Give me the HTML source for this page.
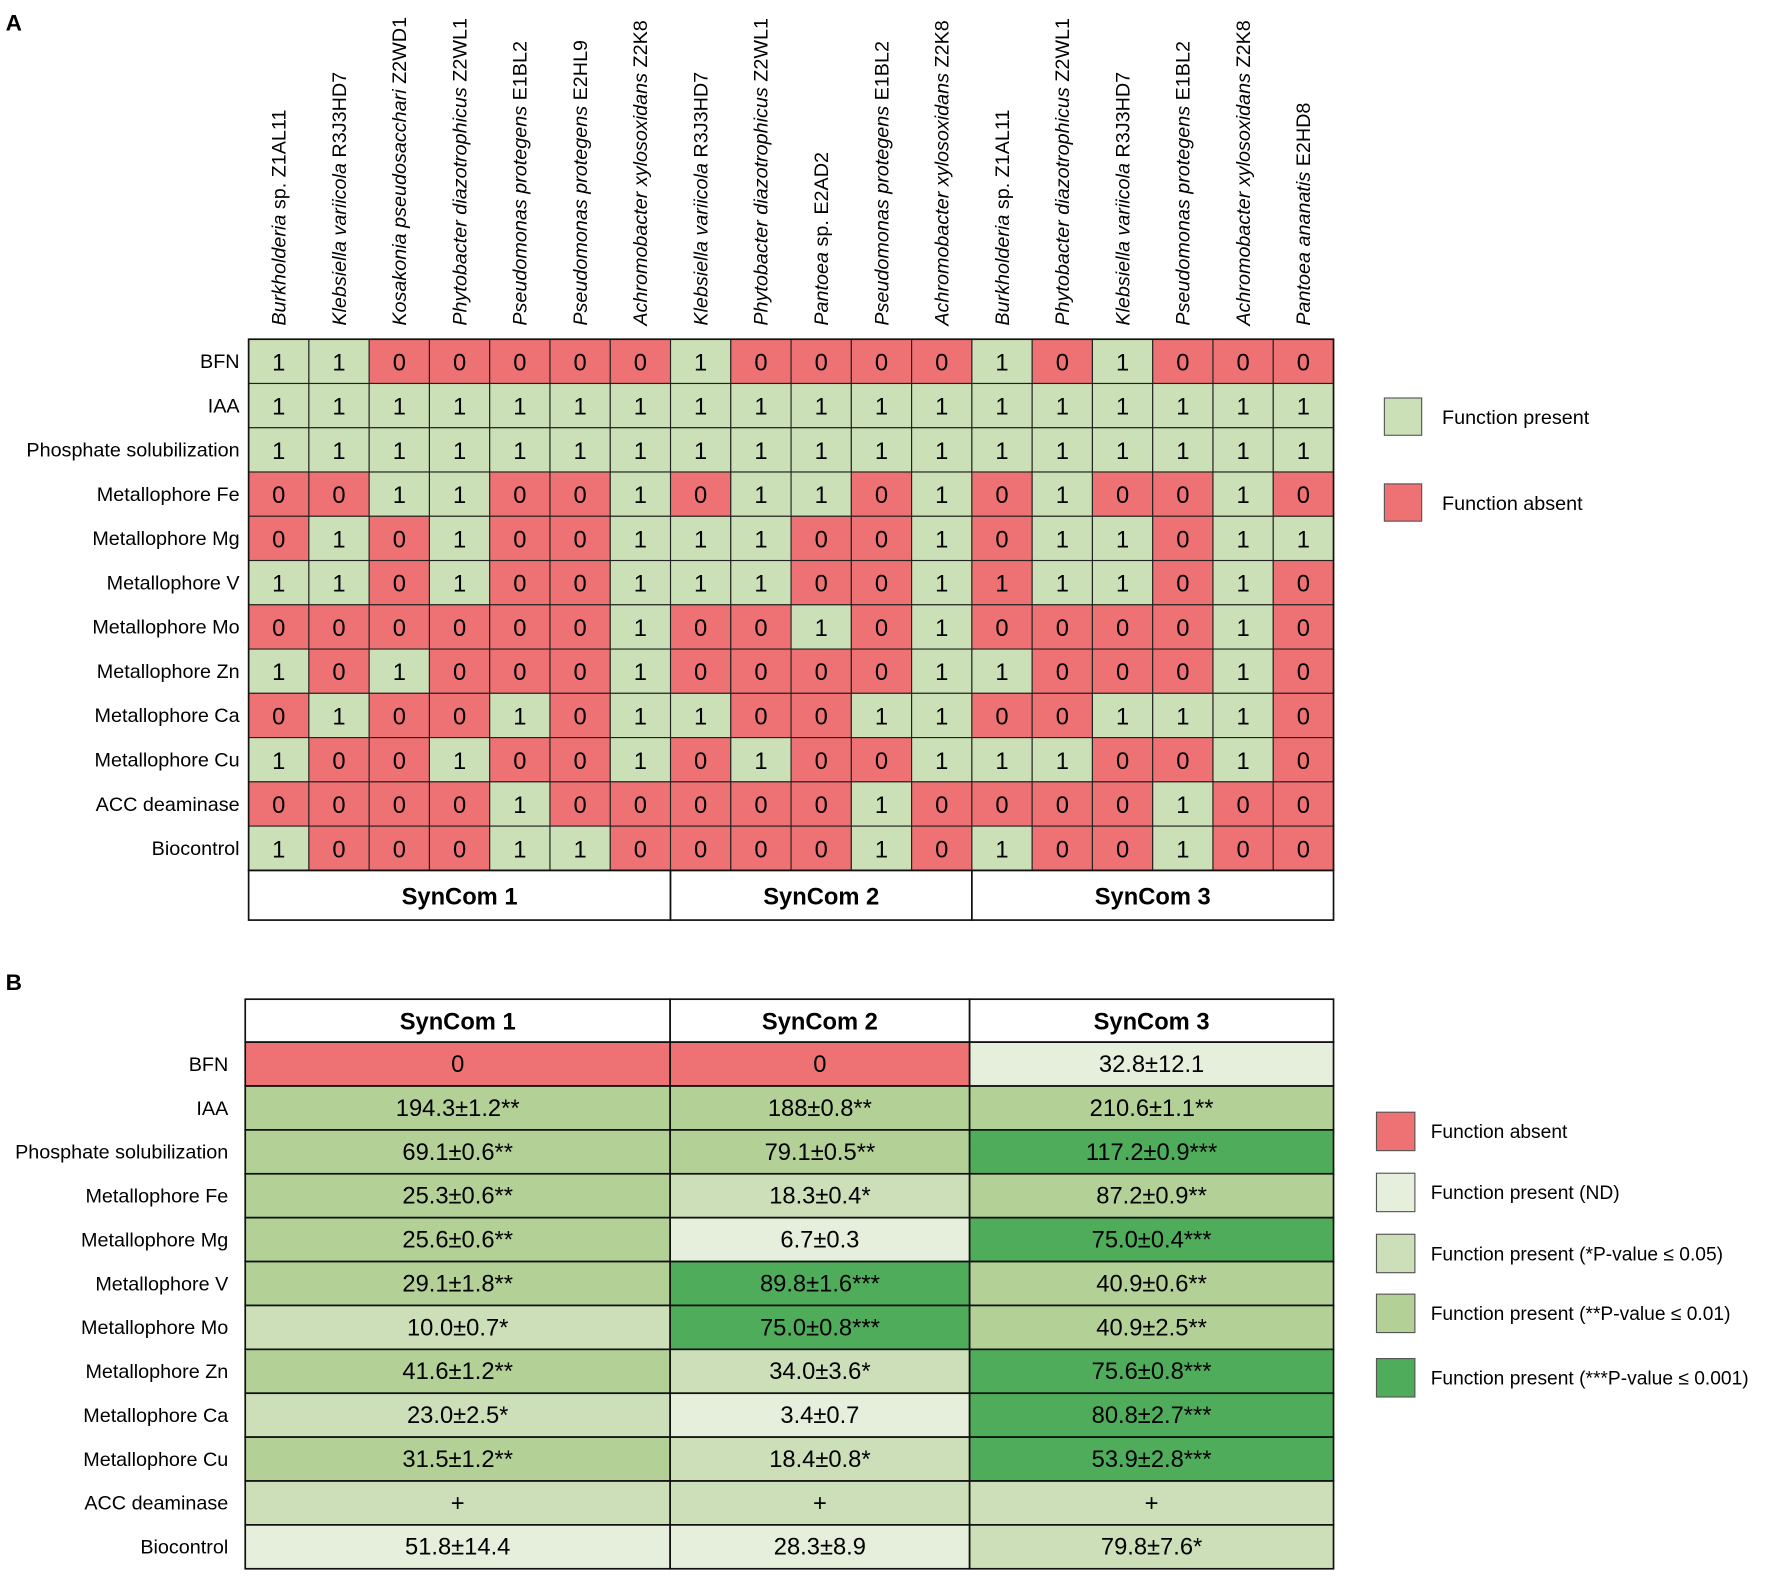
<!DOCTYPE html>
<html><head><meta charset="utf-8"><style>
html,body{margin:0;padding:0;background:#fff;width:1772px;height:1578px;overflow:hidden}
svg{display:block;font-family:"Liberation Sans",Arial,sans-serif}
</style></head><body>
<svg id="fig" width="1772" height="1578" viewBox="0 0 1568 1396" xmlns="http://www.w3.org/2000/svg">
<rect width="1568" height="1396" fill="#fff"/>
<text x="5" y="27" font-size="20" font-weight="bold">A</text>
<text x="5" y="876" font-size="20" font-weight="bold">B</text>
<g id="ga"></g><g id="gb"></g>
</svg>
<script>
// ---- Panel A data ----
const strainGenus = ["Burkholderia","Klebsiella variicola","Kosakonia pseudosacchari","Phytobacter diazotrophicus","Pseudomonas protegens","Pseudomonas protegens","Achromobacter xylosoxidans","Klebsiella variicola","Phytobacter diazotrophicus","Pantoea","Pseudomonas protegens","Achromobacter xylosoxidans","Burkholderia","Phytobacter diazotrophicus","Klebsiella variicola","Pseudomonas protegens","Achromobacter xylosoxidans","Pantoea ananatis"];
const strainSuffix = [" sp. Z1AL11"," R3J3HD7"," Z2WD1"," Z2WL1"," E1BL2"," E2HL9"," Z2K8"," R3J3HD7"," Z2WL1"," sp. E2AD2"," E1BL2"," Z2K8"," sp. Z1AL11"," Z2WL1"," R3J3HD7"," E1BL2"," Z2K8"," E2HD8"];
const functions = ["BFN","IAA","Phosphate solubilization","Metallophore Fe","Metallophore Mg","Metallophore V","Metallophore Mo","Metallophore Zn","Metallophore Ca","Metallophore Cu","ACC deaminase","Biocontrol"];
const matrixA = [
[1,1,0,0,0,0,0,1,0,0,0,0,1,0,1,0,0,0],
[1,1,1,1,1,1,1,1,1,1,1,1,1,1,1,1,1,1],
[1,1,1,1,1,1,1,1,1,1,1,1,1,1,1,1,1,1],
[0,0,1,1,0,0,1,0,1,1,0,1,0,1,0,0,1,0],
[0,1,0,1,0,0,1,1,1,0,0,1,0,1,1,0,1,1],
[1,1,0,1,0,0,1,1,1,0,0,1,1,1,1,0,1,0],
[0,0,0,0,0,0,1,0,0,1,0,1,0,0,0,0,1,0],
[1,0,1,0,0,0,1,0,0,0,0,1,1,0,0,0,1,0],
[0,1,0,0,1,0,1,1,0,0,1,1,0,0,1,1,1,0],
[1,0,0,1,0,0,1,0,1,0,0,1,1,1,0,0,1,0],
[0,0,0,0,1,0,0,0,0,0,1,0,0,0,0,1,0,0],
[1,0,0,0,1,1,0,0,0,0,1,0,1,0,0,1,0,0]];
const redOverride = [[5,12]]; // cell shown red despite value 1
const groupNames = ["SynCom 1","SynCom 2","SynCom 3"];
const groupSizes = [7,5,6];
// ---- Panel B data ----
const valuesB = [
["0","0","32.8±12.1"],
["194.3±1.2**","188±0.8**","210.6±1.1**"],
["69.1±0.6**","79.1±0.5**","117.2±0.9***"],
["25.3±0.6**","18.3±0.4*","87.2±0.9**"],
["25.6±0.6**","6.7±0.3","75.0±0.4***"],
["29.1±1.8**","89.8±1.6***","40.9±0.6**"],
["10.0±0.7*","75.0±0.8***","40.9±2.5**"],
["41.6±1.2**","34.0±3.6*","75.6±0.8***"],
["23.0±2.5*","3.4±0.7","80.8±2.7***"],
["31.5±1.2**","18.4±0.8*","53.9±2.8***"],
["+","+","+"],
["51.8±14.4","28.3±8.9","79.8±7.6*"]];
const levelsB = [
["r","r","n"],["2","2","2"],["2","2","3"],["2","1","2"],["2","n","3"],["2","3","2"],
["1","3","2"],["2","1","3"],["1","n","3"],["2","1","3"],["1","1","1"],["n","n","1"]];
const legendBLabels = ["Function absent","Function present (ND)","Function present (*P-value ≤ 0.05)","Function present (**P-value ≤ 0.01)","Function present (***P-value ≤ 0.001)"];
const legendBKeys = ["r","n","1","2","3"];

const NS="http://www.w3.org/2000/svg";
const GREEN="#cce0b8", RED="#ee7174";
const colB={r:"#ee7174",n:"#e6efdb","1":"#cddfb8","2":"#b3d196","3":"#4fac5b"};
function mk(parent,tag,attrs,txt){const e=document.createElementNS(NS,tag);for(const k in attrs)e.setAttribute(k,attrs[k]);if(txt!==undefined)e.textContent=txt;parent.appendChild(e);return e;}

// Panel A
const ga=document.getElementById('ga');
const ax0=220, ax1=1180, ay0=300, ay1=770;
const ncol=strainGenus.length, nrow=functions.length;
const cw=(ax1-ax0)/ncol, rh=(ay1-ay0)/nrow;
const xA=i=>ax0+i*cw, yA=j=>ay0+j*rh;
for(let j=0;j<nrow;j++){
  const t=mk(ga,'text',{x:212,y:yA(j)+rh/2+6,'text-anchor':'end','font-size':17.5});
  t.textContent=functions[j];
  
  
  for(let i=0;i<ncol;i++){
    const v=matrixA[j][i];
    let red=v===0; for(const o of redOverride) if(o[0]===j&&o[1]===i) red=true;
    const r=mk(ga,'rect',{x:xA(i),y:yA(j),width:cw,height:rh,fill:red?RED:GREEN,stroke:'#222','stroke-width':1});
    
    
    const tx=mk(ga,'text',{x:xA(i)+cw/2,y:yA(j)+rh/2+8,'text-anchor':'middle','font-size':21},String(v));
    
    
  }
}
for(let i=0;i<ncol;i++){
  const cx=xA(i)+cw/2+6, by=288;
  const t=mk(ga,'text',{transform:`translate(${cx},${by}) rotate(-90)`,'font-size':17.5});
  mk(t,'tspan',{'font-style':'italic'},strainGenus[i]);
  mk(t,'tspan',{},strainSuffix[i]);
  
  
}
let gx=ax0;
for(let g=0;g<groupNames.length;g++){
  const w=groupSizes[g]*cw;
  const r=mk(ga,'rect',{x:gx,y:ay1,width:w,height:44,fill:'#fff',stroke:'#111','stroke-width':1.5});
  
  
  const t=mk(ga,'text',{x:gx+w/2,y:ay1+30,'text-anchor':'middle','font-size':21,'font-weight':'bold'},groupNames[g]);
  
  
  gx+=w;
}
mk(ga,'rect',{x:ax0,y:ay0,width:ax1-ax0,height:ay1-ay0,fill:'none',stroke:'#111','stroke-width':1.5});
const legA=[[GREEN,"Function present",352],[RED,"Function absent",428]];
for(const l of legA){
  const r=mk(ga,'rect',{x:1225,y:l[2],width:33,height:33,fill:l[0],stroke:'#555','stroke-width':1});
  
  
  const t=mk(ga,'text',{x:1276,y:l[2]+23,'font-size':17.5},l[1]);
  
  
}

// Panel B
const gb=document.getElementById('gb');
const bx=[217,593,858,1180], by0=884, bhead=38, by1=1388;
const brh=(by1-by0-bhead)/functions.length;
for(let c=0;c<3;c++){
  const r=mk(gb,'rect',{x:bx[c],y:by0,width:bx[c+1]-bx[c],height:bhead,fill:'#fff',stroke:'#111','stroke-width':1.5});
  
  
  const t=mk(gb,'text',{x:(bx[c]+bx[c+1])/2,y:by0+27,'text-anchor':'middle','font-size':21,'font-weight':'bold'},groupNames[c]);
  
  
}
for(let j=0;j<functions.length;j++){
  const y=by0+bhead+j*brh;
  const t=mk(gb,'text',{x:202,y:y+brh/2+6,'text-anchor':'end','font-size':17.5},functions[j]);
  
  
  for(let c=0;c<3;c++){
    const r=mk(gb,'rect',{x:bx[c],y:y,width:bx[c+1]-bx[c],height:brh,fill:colB[levelsB[j][c]],stroke:'#111','stroke-width':1.5});
    
    
    const tx=mk(gb,'text',{x:(bx[c]+bx[c+1])/2,y:y+brh/2+7,'text-anchor':'middle','font-size':21},valuesB[j][c]);
    
    
  }
}
const legY=[984,1038,1092,1145,1202];
for(let k=0;k<legendBLabels.length;k++){
  const r=mk(gb,'rect',{x:1218,y:legY[k],width:34,height:34,fill:colB[legendBKeys[k]],stroke:'#555','stroke-width':1});
  
  
  const t=mk(gb,'text',{x:1266,y:legY[k]+23,'font-size':17},legendBLabels[k]);
  
  
}
</script>
</body></html>
